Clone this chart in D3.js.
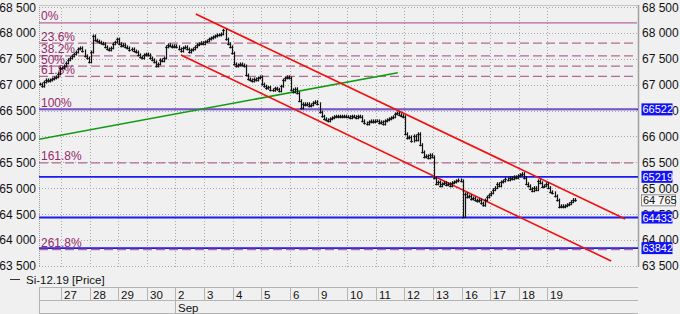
<!DOCTYPE html>
<html><head><meta charset="utf-8">
<script src="https://cdn.jsdelivr.net/npm/d3@7"></script>
<style>html,body{margin:0;padding:0;background:#f0f0f0;}svg{display:block;font-family:"Liberation Sans",Arial,sans-serif;}</style>
</head><body><svg id="c" width="680" height="314"></svg>
<script>
// ---- data ----
const dayLabels = ["26","27","28","29","30","2","3","4","5","6","9","10","11","12","13","16","17","18","19"];
const monthLabels = [{label:"Sep", day:5}];
const barsPerDay = 14;
const firstBarOffset = 3; // first visible bar of Aug 26
const closes = [
 // Aug 26 (partial)
 67010,66970,67050,67090,67070,67090,67110,67130,67150,67210,67320,
 // 27
 67320,67360,67420,67480,67515,67555,67590,67630,67690,67710,67650,67555,67515,67440,
 // 28
 67630,67940,67860,67840,67820,67800,67790,67730,67690,67670,67710,67790,67820,67880,
 // 29
 67790,67750,67770,67730,67710,67670,67690,67650,67630,67575,67535,67515,67575,67590,
 // 30
 67575,67515,67480,67440,67360,67400,67480,67460,67515,67730,67770,67750,67730,67750,
 // Sep 2
 67730,67690,67650,67710,67730,67690,67630,67670,67690,67730,67770,67790,67810,67790,
 // 3
 67825,67845,67880,67900,67920,67940,67960,67960,67980,68050,67880,67790,67730,67610,
 // 4
 67400,67360,67380,67400,67380,67360,67185,67110,67090,67070,67110,67090,67130,67150,
 // 5
 67010,66970,66930,66950,66900,66890,66930,66910,66880,66970,67090,67130,67150,67130,
 // 6
 66900,66860,66920,66840,66690,66550,66630,66610,66630,66590,66610,66650,66670,66630,
 // 9
 66470,66390,66340,66320,66300,66340,66360,66380,66390,66380,66390,66380,66390,66380,
 // 10
 66380,66360,66390,66380,66360,66390,66380,66300,66260,66240,66280,66300,66280,66300,
 // 11
 66300,66260,66280,66240,66300,66320,66340,66360,66380,66435,66450,66420,66400,66380,
 // 12
 66050,65970,65990,65910,66010,65930,66050,65840,65700,65605,65625,65585,65645,65605,
 // 13
 65200,65085,65120,65045,65085,65105,65065,65085,65045,65105,65120,65140,65160,65140,
 // 16
 64450,64890,64830,64850,64790,64810,64770,64750,64770,64710,64670,64770,64830,64870,
 // 17
 64910,64970,65010,65085,65045,65120,65140,65180,65160,65200,65180,65220,65200,65240,
 // 18
 65260,65280,65200,65085,65045,64990,64950,65010,64970,65140,65105,65030,65045,65085,
 // 19
 65010,64930,64910,64850,64770,64640,64660,64640,64660,64680,64700,64740,64780,64765
];
const yTicks = [63500,64000,64500,65000,65500,66000,66500,67000,67500,68000,68500];
const fibHigh = 68195, fibLow = 66522;
const fibRatios = [0,0.236,0.382,0.5,0.618,1,1.618,2.618];
const fibLabels = ["0%","23.6%","38.2%","50%","61.8%","100%","161.8%","261.8%"];
const fibDashed = [false,true,true,true,true,false,true,true];
const blueLevels = [66522,65219,64433,63842];
const lastPrice = 64765;
const channelUpper = [{day:5.71, price:68365},{day:20.72, price:64404}];
const channelLower = [{day:5.19, price:67573},{day:20.23, price:63593}];
const greenLine = [{day:0.23, price:65944},{day:12.77, price:67231}];
const legendText = "Si-12.19 [Price]";

// ---- layout ----
const L = 39, R = 638, T = 5, B = 267;
const svg = d3.select("#c");
const x = d3.scaleLinear().domain([0, 21]).range([32.4, 32.4 + 21*28.61]);
const y = d3.scaleLinear().domain([63500, 68500]).range([265.8, 7]);
const fmt = v => d3.format(",")(v).replace(/,/g, " ");

svg.append("rect").attr("width",680).attr("height",314).attr("fill","#f0f0f0");
svg.append("defs").append("clipPath").attr("id","clip")
  .append("rect").attr("x",L).attr("y",T).attr("width",R-L).attr("height",B-T);

const grid = svg.append("g");
grid.selectAll("line.h").data(yTicks).join("line")
  .attr("x1",L).attr("x2",R).attr("y1",d=>Math.round(y(d))+0.5).attr("y2",d=>Math.round(y(d))+0.5)
  .attr("stroke","#a8a8a8").attr("stroke-dasharray","1,2");
grid.selectAll("line.v").data(d3.range(1, dayLabels.length)).join("line")
  .attr("x1",d=>Math.round(x(d))+0.5).attr("x2",d=>Math.round(x(d))+0.5).attr("y1",T).attr("y2",B)
  .attr("stroke","#a8a8a8").attr("stroke-dasharray","1,2");
// frame
svg.append("line").attr("x1",L+0.5).attr("x2",L+0.5).attr("y1",T).attr("y2",B).attr("stroke","#999").attr("stroke-dasharray","1,1");
svg.append("line").attr("x1",L).attr("x2",R).attr("y1",T+0.5).attr("y2",T+0.5).attr("stroke","#c4c4c4");
svg.append("line").attr("x1",R+0.5).attr("x2",R+0.5).attr("y1",T).attr("y2",B).attr("stroke","#a0a0a0").attr("stroke-width",1.5);

// y labels
svg.append("g").selectAll("text").data(yTicks).join("text")
  .attr("x",36).attr("y",d=>y(d)+4.5).attr("text-anchor","end").attr("font-size",12).attr("fill","#111").text(fmt);
svg.append("g").selectAll("text").data(yTicks).join("text")
  .attr("x",642).attr("y",d=>y(d)+4.5).attr("font-size",12).attr("fill","#111").text(fmt);

const plot = svg.append("g").attr("clip-path","url(#clip)");

// blue levels
plot.selectAll("line.blue").data(blueLevels).join("line")
  .attr("x1",L).attr("x2",R).attr("y1",d=>y(d)).attr("y2",d=>y(d))
  .attr("stroke","#1a1af0").attr("stroke-width",1.8);

// fib
const fibs = fibRatios.map((r,i)=>({r, label:fibLabels[i], dashed:fibDashed[i], price: fibHigh - r*(fibHigh-fibLow)}));
plot.selectAll("line.fib").data(fibs).join("line")
  .attr("x1",L).attr("x2",R-1).attr("y1",d=>y(d.price)).attr("y2",d=>y(d.price))
  .attr("stroke",d=>d.r===1?"#8a4fb0":"#b46a94").attr("stroke-width",d=>d.r===1?1.2:1.3)
  .attr("stroke-dasharray",d=>d.dashed?"9,4":null);
plot.selectAll("text.fib").data(fibs).join("text")
  .attr("x",41).attr("y",d=>y(d.price)-2.5).attr("font-size",12).attr("fill","#952a6b").text(d=>d.label);

// trend lines
const line = d3.line().x(d=>x(d.day)).y(d=>y(d.price));
plot.append("path").attr("d",line(greenLine)).attr("stroke","#129a12").attr("stroke-width",1.6).attr("fill","none");
plot.append("path").attr("d",line(channelUpper)).attr("stroke","#f01010").attr("stroke-width",1.6).attr("fill","none");
plot.append("path").attr("d",line(channelLower)).attr("stroke","#f01010").attr("stroke-width",1.6).attr("fill","none");

// price bars
const bars = closes.map((c,i)=>{
  const abs = i + firstBarOffset;
  const day = Math.floor(abs/barsPerDay), j = abs % barsPerDay;
  return {t: day + (j+0.5)/barsPerDay, c, p: i>0 ? closes[i-1] : c};
});
const bg = plot.append("g").attr("stroke","#111").attr("stroke-width",1.2);
bg.selectAll("line.b").data(bars).join("line")
  .attr("x1",d=>Math.round(x(d.t))+0.5).attr("x2",d=>Math.round(x(d.t))+0.5)
  .attr("y1",d=>Math.min(y(d.c),y(d.p))-1.5).attr("y2",d=>Math.max(y(d.c),y(d.p))+1.5);
bg.selectAll("line.t").data(bars).join("line")
  .attr("x1",d=>Math.round(x(d.t))-0.8).attr("x2",d=>Math.round(x(d.t))+1.8)
  .attr("y1",d=>Math.round(y(d.c))+0.5).attr("y2",d=>Math.round(y(d.c))+0.5);

// right-axis badges
const badges = svg.append("g");
blueLevels.forEach(v=>{
  const yy = y(v);
  badges.append("rect").attr("x",641.5).attr("y",yy-6).attr("width",31).attr("height",12).attr("fill","#1212f2");
  badges.append("text").attr("x",642.5).attr("y",yy+4).attr("font-size",11).attr("fill","#fff").text(v);
});
{
  const yy = y(lastPrice);
  badges.append("rect").attr("x",641.5).attr("y",yy-5.5).attr("width",34).attr("height",11).attr("fill","#f7f7f7").attr("stroke","#888");
  badges.append("text").attr("x",643).attr("y",yy+4).attr("font-size",11).attr("fill","#111").text(fmt(lastPrice));
}

// legend
svg.append("line").attr("x1",10).attr("x2",20).attr("y1",279.5).attr("y2",279.5).attr("stroke","#333");
svg.append("text").attr("x",26).attr("y",283.5).attr("font-size",11.5).attr("fill","#111").text(legendText);

// date axis
const ax = svg.append("g").attr("stroke","#b4b4b4").attr("shape-rendering","crispEdges");
[287,300,313].forEach(yy=>ax.append("line").attr("x1",L).attr("x2",R).attr("y1",yy+0.5).attr("y2",yy+0.5));
ax.append("line").attr("x1",L+0.5).attr("x2",L+0.5).attr("y1",287).attr("y2",314);
const dayIdx = d3.range(1, dayLabels.length);
ax.selectAll("line.d").data(dayIdx).join("line")
  .attr("x1",d=>Math.round(x(d))+0.5).attr("x2",d=>Math.round(x(d))+0.5).attr("y1",287).attr("y2",300);
ax.selectAll("line.m").data(monthLabels).join("line")
  .attr("x1",d=>Math.round(x(d.day))+0.5).attr("x2",d=>Math.round(x(d.day))+0.5).attr("y1",300).attr("y2",313);
svg.append("g").selectAll("text").data(dayIdx).join("text")
  .attr("x",d=>Math.round(x(d))+3).attr("y",298.5).attr("font-size",11.5).attr("fill","#111").text(d=>dayLabels[d]);
svg.append("g").selectAll("text").data(monthLabels).join("text")
  .attr("x",d=>Math.round(x(d.day))+3).attr("y",311.5).attr("font-size",11.5).attr("fill","#111").text(d=>d.label);
</script></body></html>
